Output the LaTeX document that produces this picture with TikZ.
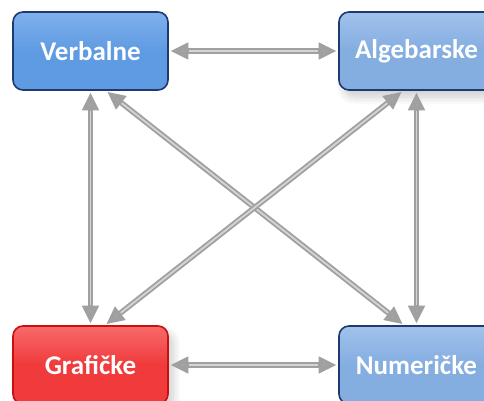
\documentclass[tikz,border=0pt]{standalone}
\usepackage{fontspec}
\setmainfont{Carlito}
\usetikzlibrary{arrows.meta,calc,shadows.blur}
\definecolor{bordblue}{HTML}{1F3A70}
\definecolor{blueA}{HTML}{5F9BE2}
\definecolor{blueAtop}{HTML}{7FB0EC}
\definecolor{blueB}{HTML}{84ADE0}
\definecolor{blueBtop}{HTML}{A0C2EC}
\definecolor{redA}{HTML}{F03A3C}
\definecolor{redAtop}{HTML}{F86A6A}
\definecolor{bordred}{HTML}{C81010}
\definecolor{shaftgray}{HTML}{A0A0A0}
\definecolor{shaftlight}{HTML}{D4D4D4}
\definecolor{tipgray}{HTML}{A8A8A8}
\begin{document}
\begin{tikzpicture}[x=1pt,y=-1pt,
  box/.style={rounded corners=10pt, line width=1.6pt, minimum width=155pt, minimum height=78pt,
    inner sep=0pt, text=white, font=\bfseries\fontsize{27}{30}\selectfont},
  boxdark/.style={box, draw=bordblue, top color=blueAtop, bottom color=blueA, middle color=blueA},
  boxlight/.style={box, draw=bordblue, top color=blueBtop, bottom color=blueB, middle color=blueB},
  boxred/.style={box, draw=bordred, top color=redAtop, bottom color=redA, middle color=redA},
  softshadow/.style={blur shadow={shadow xshift=5pt, shadow yshift=-7pt, shadow blur steps=12, shadow blur radius=8pt, shadow opacity=20}},
  arrbase/.style={draw=shaftgray, line width=5.5pt,
    {Triangle[length=18pt,width=16pt,fill=tipgray]}-{Triangle[length=18pt,width=16pt,fill=tipgray]},
    shorten <=1.5pt, shorten >=1.5pt},
  arrhi/.style={draw=shaftlight, line width=1.8pt, shorten <=20pt, shorten >=20pt}
]
\clip (0,0) rectangle (484,401);

\node[boxdark] (v) at (90.5,51) {Verbalne};
\node[boxlight, softshadow] (a) at (416.5,51) {Algebarske};
\node[boxred, softshadow] (g) at (90.5,365) {Grafičke};
\node[boxlight] (n) at (416.5,365) {Numeričke};

\coordinate (vd) at ($(v.south)+(15.5,0)$);
\coordinate (nd) at ($(n.north)+(-12.5,0)$);
\coordinate (ad) at ($(a.south)+(-13.5,0)$);
\coordinate (gd) at ($(g.north)+(14.5,0)$);

\foreach \s/\t in {v.east/a.west, g.east/n.west, v.south/g.north, a.south/n.north, vd/nd, ad/gd}{
  \draw[arrbase] (\s) -- (\t);
  \draw[arrhi] (\s) -- (\t);
}
\end{tikzpicture}
\end{document}
